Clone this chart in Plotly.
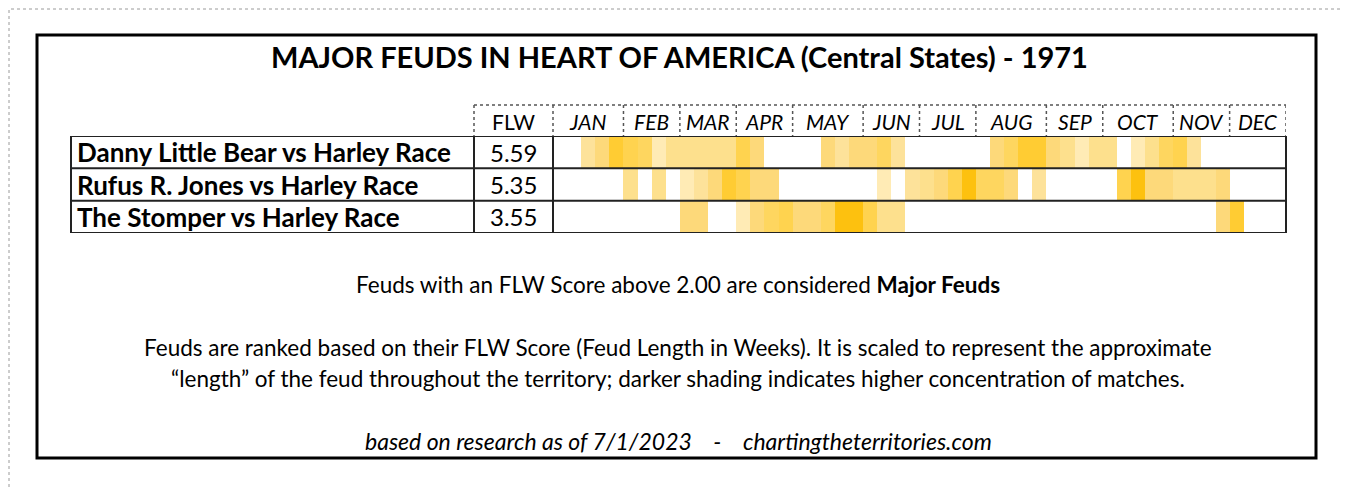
import plotly.graph_objects as go

# ---------------- data ----------------
feuds = ["Danny Little Bear vs Harley Race",
         "Rufus R. Jones vs Harley Race",
         "The Stomper vs Harley Race"]
flw_scores = ["5.59", "5.35", "3.55"]
months = ["JAN", "FEB", "MAR", "APR", "MAY", "JUN",
          "JUL", "AUG", "SEP", "OCT", "NOV", "DEC"]
weeks_per_month = [5, 4, 4, 4, 5, 4, 4, 5, 4, 5, 4, 4]

N = None
# weekly shading intensity (1 = light ... 5 = darkest), None = no matches
danny_weeks = [N, N, 1.5, 2.5, 4, 3.5, 3, 1, 2, 2, 2, 2, 2, 3.5, 2.5, N, N, N, N,
               2.5, 1.5, 2.5, 2.5, 3, 1.5, N, N, N, N, N, N, 2.5, 3, 4, 4, 2.5,
               2, 1, 2, 2, N, 1, 2, 3, 3.5, 1.5, N, N, N, N, N, N]
rufus_weeks = [N, N, N, N, N, 2, N, 2, N, 1, 1.5, 2.5, 4, 3.5, 2.5, 2.5, N, N, N,
               N, N, N, N, 1, N, 1.5, 2, 2.5, 3.5, 4.5, 3, 3, 2.5, N, 1.5, N,
               N, N, N, N, 3.5, 4.5, 2.5, 2.5, 2, 2, 2, 2.5, N, N, N, N]
stomper_weeks = [N, N, N, N, N, N, N, N, N, 2.5, 2.5, N, N, 1, 2.5, 3, 3.5, 2.5,
                 2.5, 3, 4.5, 4.5, 3.5, 2, 2, N, N, N, N, N, N, N, N, N, N, N,
                 N, N, N, N, N, N, N, N, N, N, N, 2.5, 4, N, N, N]

title = "MAJOR FEUDS IN HEART OF AMERICA (Central States) - 1971"
note1 = "Feuds with an FLW Score above 2.00 are considered <b>Major Feuds</b>"
note2 = "Feuds are ranked based on their FLW Score (Feud Length in Weeks). It is scaled to represent the approximate"
note3 = "\u201clength\u201d of the feud throughout the territory; darker shading indicates higher concentration of matches."
source = "based on research as of 7/1/2023\u00a0\u00a0\u00a0\u00a0-\u00a0\u00a0\u00a0\u00a0chartingtheterritories.com"

# ---------------- layout helpers ----------------
OFF = 8                        # page body margin of the html page
W, H = 1350 - OFF, 487 - OFF   # figure size so that it fits the window
FONT = "Lato"


def X(px):
    return (px - OFF) / W


def Y(py):
    return 1 - (py - OFF) / H


HM_L, HM_R = 553, 1286        # heatmap pixel extent
ROW_T, ROW_B = 136, 233       # body rows
HDR_T = 105                   # header top
LAB_L, FLW_L = 71, 474

z = [danny_weeks, rufus_weeks, stomper_weeks]
nweeks = len(danny_weeks)

fig = go.Figure()
fig.add_trace(go.Heatmap(
    z=z,
    x=list(range(nweeks)),
    y=list(range(len(feuds))),
    zmin=1, zmax=5,
    colorscale=[[0, "#FFEBB5"], [0.125, "#FDE29A"], [0.25, "#FDE08D"],
                [0.375, "#FDD97A"], [0.5, "#FED65F"], [0.625, "#FFD34F"],
                [0.75, "#FFCC33"], [0.875, "#FDC10F"], [1, "#FFC000"]],
    showscale=False, hoverinfo="skip", xgap=0, ygap=0,
))

shapes = []
# page dotted border
shapes.append(dict(type="rect", xref="paper", yref="paper",
                   x0=X(9), x1=X(1347), y0=Y(500), y1=Y(9),
                   line=dict(color="#9a9a9a", width=1, dash="dot")))
# black frame
shapes.append(dict(type="rect", xref="paper", yref="paper",
                   x0=X(37), x1=X(1316), y0=Y(458), y1=Y(35),
                   line=dict(color="black", width=3)))

# header dotted grid
hdr_line = dict(color="#555555", width=1.5, dash="dot")
shapes.append(dict(type="line", xref="paper", yref="paper",
                   x0=X(FLW_L), x1=X(HM_R), y0=Y(HDR_T), y1=Y(HDR_T), line=hdr_line))
for px in (FLW_L, HM_L):
    shapes.append(dict(type="line", xref="paper", yref="paper",
                       x0=X(px), x1=X(px), y0=Y(HDR_T), y1=Y(ROW_T), line=hdr_line))
cum = 0
month_centers = []
for n in weeks_per_month:
    month_centers.append(cum + (n - 1) / 2)
    cum += n
    shapes.append(dict(type="line", xref="x", yref="paper",
                       x0=cum - 0.5, x1=cum - 0.5, y0=Y(HDR_T), y1=Y(ROW_T), line=hdr_line))

# body solid grid
body_line = dict(color="#222222", width=2)
for r in range(len(feuds) + 1):
    shapes.append(dict(type="line", xref="paper", yref="y",
                       x0=X(LAB_L), x1=X(HM_R), y0=r - 0.5, y1=r - 0.5, line=body_line))
for px in (LAB_L, FLW_L, HM_L, HM_R):
    shapes.append(dict(type="line", xref="paper", yref="y",
                       x0=X(px), x1=X(px), y0=-0.5, y1=len(feuds) - 0.5, line=body_line))

annotations = []


def note(text, x, y, size, xref="paper", yref="paper", xanchor="center"):
    annotations.append(dict(text=text, xref=xref, yref=yref, x=x, y=y,
                            xanchor=xanchor, yanchor="middle", showarrow=False,
                            font=dict(family=FONT, size=size, color="black")))


note("<b>" + title + "</b>", X(679), Y(57), 29)
note("FLW", X((FLW_L + HM_L) / 2), Y(121), 21)
for m, c in zip(months, month_centers):
    note("<i>" + m + "</i>", c, Y(121), 21, xref="x")
for i, (name, s) in enumerate(zip(feuds, flw_scores)):
    note("<b>" + name + "</b>", X(LAB_L + 4), i, 26, yref="y", xanchor="left")
    note(s, X((FLW_L + HM_L) / 2), i, 24, yref="y")

note(note1, X(678), Y(284), 22.5)
note(note2, X(678), Y(347), 22.5)
note(note3, X(678), Y(378), 22.5)
note("<i>" + source + "</i>", X(678), Y(441), 23)

fig.update_layout(
    width=W, height=H,
    margin=dict(l=0, r=0, t=0, b=0),
    paper_bgcolor="white", plot_bgcolor="white",
    xaxis=dict(domain=[X(HM_L), X(HM_R)], range=[-0.5, nweeks - 0.5],
               visible=False, fixedrange=True),
    yaxis=dict(domain=[Y(ROW_B), Y(ROW_T)], range=[len(feuds) - 0.5, -0.5],
               visible=False, fixedrange=True),
    shapes=shapes, annotations=annotations,
)

fig.write_html("out.html")
